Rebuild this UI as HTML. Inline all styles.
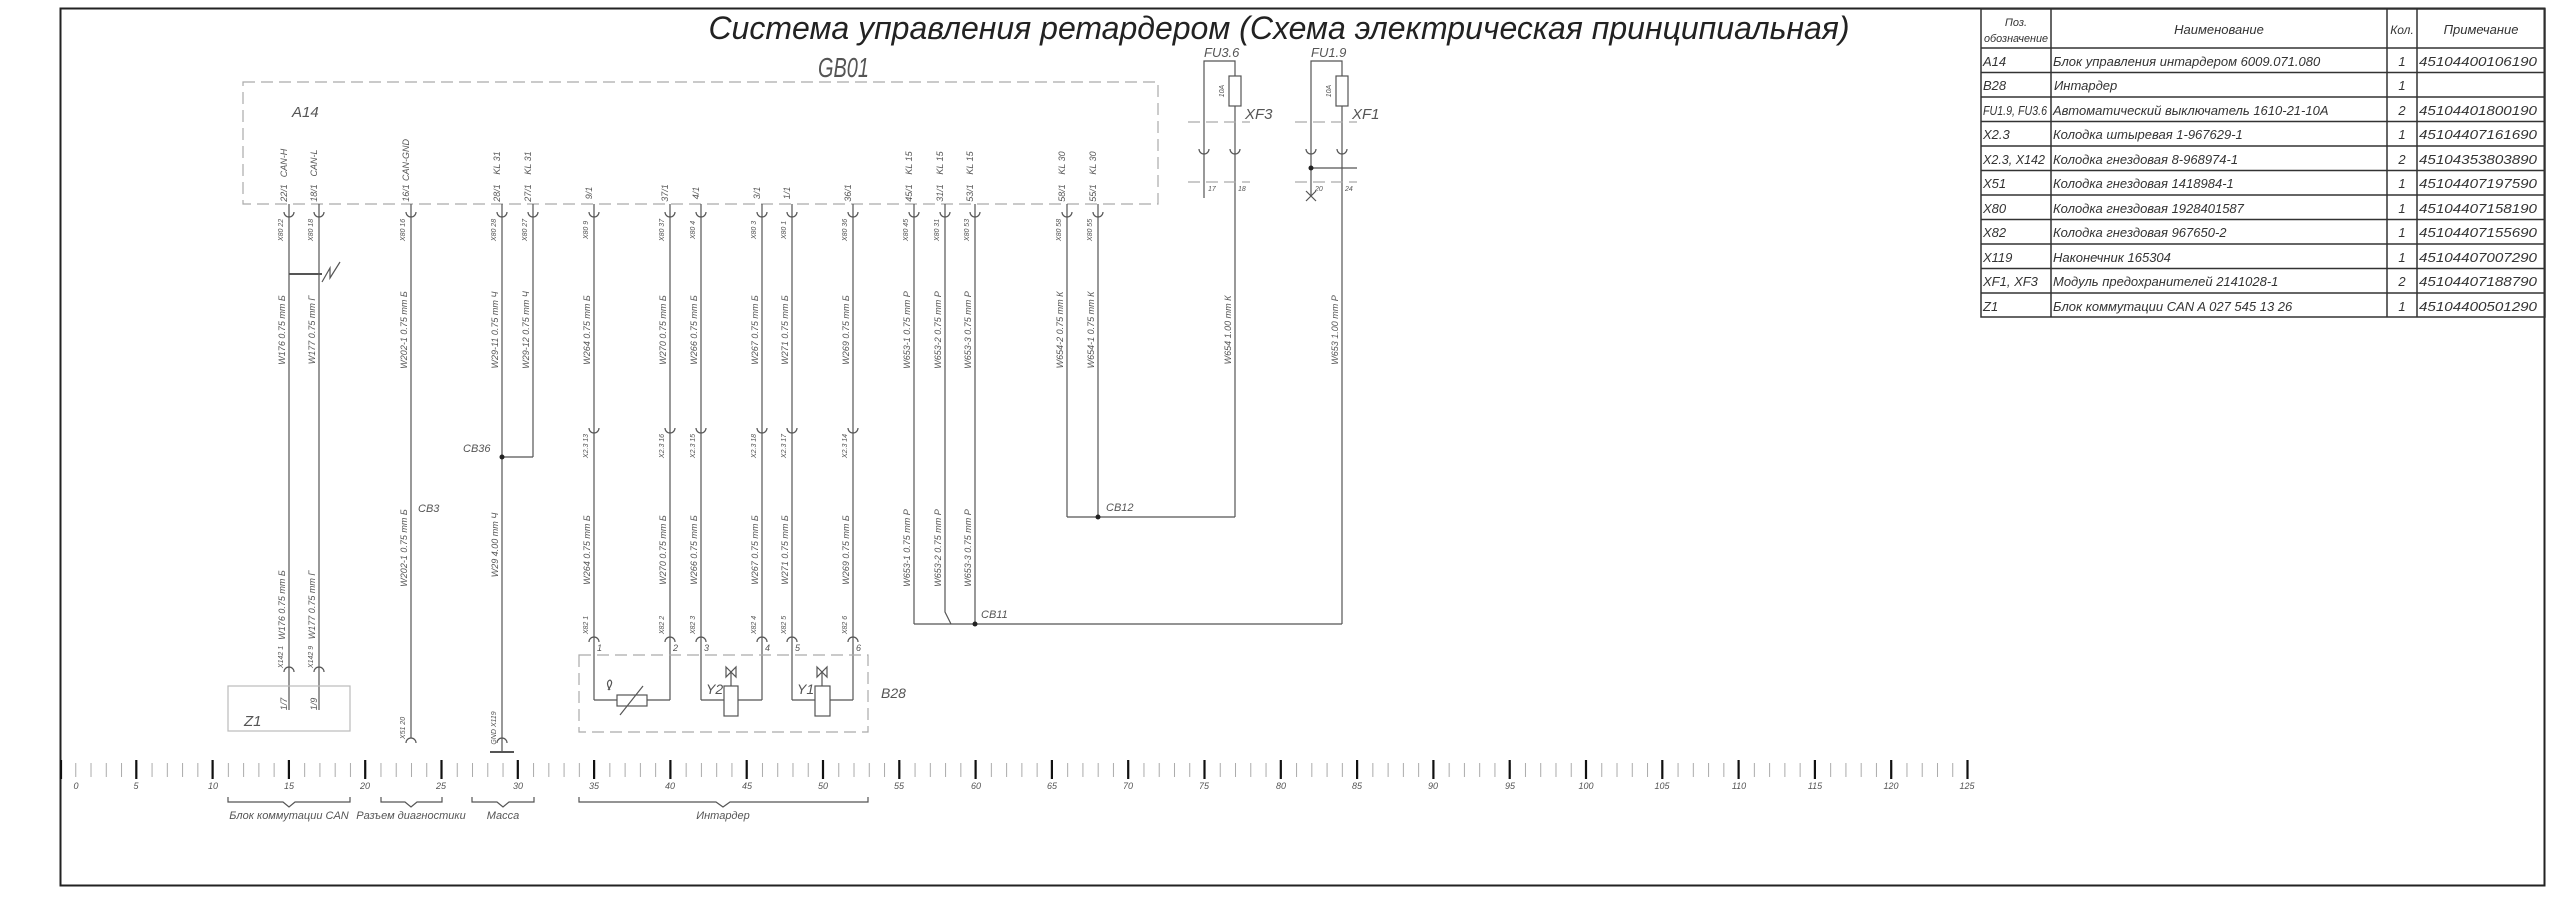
<!DOCTYPE html>
<html><head><meta charset="utf-8"><style>
html,body{margin:0;padding:0;background:#fff}
svg{display:block}
.w{stroke:#555;stroke-width:1.2;fill:none}
.d{stroke:#aaa;stroke-width:1.2;fill:none;stroke-dasharray:12 6}
.t{font-family:"Liberation Sans Narrow","Liberation Sans",sans-serif;font-style:italic;fill:#555}
.s{font-size:9px}
.xs{font-size:7px}
.tb{font-size:13px;fill:#333}
</style></head><body>
<svg width="2560" height="899" viewBox="0 0 2560 899" xmlns="http://www.w3.org/2000/svg">
<defs>
<pattern id="tk" x="60" y="0" width="15.26" height="899" patternUnits="userSpaceOnUse">
<line x1="0.5" y1="763" x2="0.5" y2="777" stroke="#aaa" stroke-width="1"/>
</pattern>
</defs>
<rect x="60.5" y="8.5" width="2484" height="877" fill="none" stroke="#222" stroke-width="2"/>
<text x="1279" y="39" text-anchor="middle" font-family="Liberation Sans, sans-serif" font-style="italic" font-size="32" fill="#222">Система управления ретардером (Схема электрическая принципиальная)</text>
<text x="818" y="77" class="t" font-size="28" fill="#444" textLength="51" lengthAdjust="spacingAndGlyphs">GB01</text>

<g stroke="#333" stroke-width="1.5" fill="none">
<rect x="1981" y="9" width="564" height="308"/>
<line x1="2051" y1="9" x2="2051" y2="317"/><line x1="2387" y1="9" x2="2387" y2="317"/><line x1="2417" y1="9" x2="2417" y2="317"/>
<line x1="1981" y1="48" x2="2545" y2="48"/>
<line x1="1981" y1="72.5" x2="2545" y2="72.5"/><line x1="1981" y1="97" x2="2545" y2="97"/>
<line x1="1981" y1="121.5" x2="2545" y2="121.5"/><line x1="1981" y1="146" x2="2545" y2="146"/>
<line x1="1981" y1="170.5" x2="2545" y2="170.5"/><line x1="1981" y1="195" x2="2545" y2="195"/>
<line x1="1981" y1="219.5" x2="2545" y2="219.5"/><line x1="1981" y1="244" x2="2545" y2="244"/>
<line x1="1981" y1="268.5" x2="2545" y2="268.5"/><line x1="1981" y1="293" x2="2545" y2="293"/>
</g>
<g class="t tb">
<text x="2016" y="26" text-anchor="middle" font-size="11">Поз.</text>
<text x="1984" y="42" font-size="11" textLength="64" lengthAdjust="spacingAndGlyphs">обозначение</text>
<text x="2219" y="34" text-anchor="middle">Наименование</text>
<text x="2402" y="34" text-anchor="middle" font-size="12">Кол.</text>
<text x="2481" y="34" text-anchor="middle">Примечание</text>
<text x="1983" y="66">A14</text><text x="2053" y="66">Блок управления интардером 6009.071.080</text><text x="2402" y="66" text-anchor="middle">1</text><text x="2419" y="66" textLength="118" lengthAdjust="spacingAndGlyphs">45104400106190</text>
<text x="1983" y="90">B28</text><text x="2054" y="90">Интардер</text><text x="2402" y="90" text-anchor="middle">1</text>
<text x="1983" y="115" textLength="64" lengthAdjust="spacingAndGlyphs">FU1.9, FU3.6</text><text x="2053" y="115">Автоматический выключатель 1610-21-10А</text><text x="2402" y="115" text-anchor="middle">2</text><text x="2419" y="115" textLength="118" lengthAdjust="spacingAndGlyphs">45104401800190</text>
<text x="1983" y="139">X2.3</text><text x="2053" y="139">Колодка штыревая 1-967629-1</text><text x="2402" y="139" text-anchor="middle">1</text><text x="2419" y="139" textLength="118" lengthAdjust="spacingAndGlyphs">45104407161690</text>
<text x="1983" y="164" textLength="62" lengthAdjust="spacingAndGlyphs">X2.3, X142</text><text x="2053" y="164">Колодка гнездовая 8-968974-1</text><text x="2402" y="164" text-anchor="middle">2</text><text x="2419" y="164" textLength="118" lengthAdjust="spacingAndGlyphs">45104353803890</text>
<text x="1983" y="188">X51</text><text x="2053" y="188">Колодка гнездовая 1418984-1</text><text x="2402" y="188" text-anchor="middle">1</text><text x="2419" y="188" textLength="118" lengthAdjust="spacingAndGlyphs">45104407197590</text>
<text x="1983" y="213">X80</text><text x="2053" y="213">Колодка гнездовая 1928401587</text><text x="2402" y="213" text-anchor="middle">1</text><text x="2419" y="213" textLength="118" lengthAdjust="spacingAndGlyphs">45104407158190</text>
<text x="1983" y="237">X82</text><text x="2053" y="237">Колодка гнездовая 967650-2</text><text x="2402" y="237" text-anchor="middle">1</text><text x="2419" y="237" textLength="118" lengthAdjust="spacingAndGlyphs">45104407155690</text>
<text x="1983" y="262">X119</text><text x="2053" y="262">Наконечник  165304</text><text x="2402" y="262" text-anchor="middle">1</text><text x="2419" y="262" textLength="118" lengthAdjust="spacingAndGlyphs">45104407007290</text>
<text x="1983" y="286">XF1, XF3</text><text x="2053" y="286">Модуль предохранителей 2141028-1</text><text x="2402" y="286" text-anchor="middle">2</text><text x="2419" y="286" textLength="118" lengthAdjust="spacingAndGlyphs">45104407188790</text>
<text x="1983" y="311">Z1</text><text x="2053" y="311">Блок коммутации CAN A 027 545 13 26</text><text x="2402" y="311" text-anchor="middle">1</text><text x="2419" y="311" textLength="118" lengthAdjust="spacingAndGlyphs">45104400501290</text>
</g>

<rect x="243" y="82" width="915" height="122" class="d"/>
<text x="292" y="117" class="t" font-size="15">A14</text>

<g class="w">
<line x1="289" y1="204" x2="289" y2="710"/>
<line x1="319" y1="204" x2="319" y2="710"/>
<line x1="411" y1="204" x2="411" y2="738"/>
<line x1="502" y1="204" x2="502" y2="752"/>
<line x1="533" y1="204" x2="533" y2="457"/>
<line x1="502" y1="457" x2="533" y2="457"/>
<line x1="490" y1="752" x2="514" y2="752" stroke-width="2"/>
<line x1="289" y1="274" x2="322" y2="274" stroke-width="2"/>
<path d="M322,282 L330,268 L330,278 L340,262"/>
<line x1="594" y1="204" x2="594" y2="700"/>
<line x1="670" y1="204" x2="670" y2="700"/>
<line x1="701" y1="204" x2="701" y2="700"/>
<line x1="762" y1="204" x2="762" y2="700"/>
<line x1="792" y1="204" x2="792" y2="700"/>
<line x1="853" y1="204" x2="853" y2="700"/>
<line x1="914" y1="204" x2="914" y2="624"/>
<path d="M945,204 L945,612 L951,624"/>
<line x1="975" y1="204" x2="975" y2="624"/>
<line x1="914" y1="624" x2="1342" y2="624"/>
<line x1="1067" y1="204" x2="1067" y2="517"/>
<line x1="1098" y1="204" x2="1098" y2="517"/>
<line x1="1067" y1="517" x2="1235" y2="517"/>
<path d="M1204,198 L1204,61 L1235,61 L1235,517"/>
<rect x="1229" y="76" width="12" height="30" fill="#fff"/>
<path d="M1311,196 L1311,61 L1342,61 L1342,624"/>
<rect x="1336" y="76" width="12" height="30" fill="#fff"/>
<line x1="1311" y1="168" x2="1357" y2="168"/>
<path d="M1306,191 L1316,201 M1316,191 L1306,201"/>
</g>
<g class="d" stroke="#999">
<line x1="1188" y1="122" x2="1250" y2="122"/><line x1="1188" y1="182" x2="1250" y2="182"/>
<line x1="1295" y1="122" x2="1357" y2="122"/><line x1="1295" y1="182" x2="1357" y2="182"/>
</g>
<g fill="#222">
<circle cx="502" cy="457" r="2.5"/><circle cx="1098" cy="517" r="2.5"/><circle cx="975" cy="624" r="2.5"/><circle cx="1311" cy="168" r="2.5"/>
</g>
<g class="t" font-size="13">
<text x="1204" y="57">FU3.6</text><text x="1311" y="57">FU1.9</text>
<text x="1245" y="119" font-size="15">XF3</text><text x="1352" y="119" font-size="15">XF1</text>
<text x="463" y="452" font-size="11">CB36</text><text x="418" y="512" font-size="11">CB3</text>
<text x="1106" y="511" font-size="11">CB12</text><text x="981" y="618" font-size="11">CB11</text>
</g>
<g class="t xs">
<text transform="translate(1224,91) rotate(-90)" text-anchor="middle">10A</text>
<text transform="translate(1331,91) rotate(-90)" text-anchor="middle">10A</text>
<text x="1208" y="191">17</text><text x="1238" y="191">18</text><text x="1315" y="191">20</text><text x="1345" y="191">24</text>
</g>

<g class="w">
<path d="M284,212 A5,5 0 0 0 294,212 M314,212 A5,5 0 0 0 324,212 M406,212 A5,5 0 0 0 416,212 M497,212 A5,5 0 0 0 507,212 M528,212 A5,5 0 0 0 538,212 M589,212 A5,5 0 0 0 599,212 M665,212 A5,5 0 0 0 675,212 M696,212 A5,5 0 0 0 706,212 M757,212 A5,5 0 0 0 767,212 M787,212 A5,5 0 0 0 797,212 M848,212 A5,5 0 0 0 858,212 M909,212 A5,5 0 0 0 919,212 M940,212 A5,5 0 0 0 950,212 M970,212 A5,5 0 0 0 980,212 M1062,212 A5,5 0 0 0 1072,212 M1093,212 A5,5 0 0 0 1103,212"/>
<path d="M1199,149 A5,5 0 0 0 1209,149 M1230,149 A5,5 0 0 0 1240,149 M1306,149 A5,5 0 0 0 1316,149 M1337,149 A5,5 0 0 0 1347,149"/>
<path d="M589,428 A5,5 0 0 0 599,428 M665,428 A5,5 0 0 0 675,428 M696,428 A5,5 0 0 0 706,428 M757,428 A5,5 0 0 0 767,428 M787,428 A5,5 0 0 0 797,428 M848,428 A5,5 0 0 0 858,428"/>
<path d="M589,642 A5,5 0 0 1 599,642 M665,642 A5,5 0 0 1 675,642 M696,642 A5,5 0 0 1 706,642 M757,642 A5,5 0 0 1 767,642 M787,642 A5,5 0 0 1 797,642 M848,642 A5,5 0 0 1 858,642"/>
<path d="M284,672 A5,5 0 0 1 294,672 M314,672 A5,5 0 0 1 324,672 M406,743 A5,5 0 0 1 416,743 M497,743 A5,5 0 0 1 507,743"/>
</g>

<rect x="228" y="686" width="122" height="45" fill="none" stroke="#bbb" stroke-width="1.2"/>
<text x="244" y="726" class="t" font-size="15">Z1</text>
<rect x="579" y="655" width="289" height="77" class="d" stroke="#666"/>
<text x="881" y="698" class="t" font-size="14">B28</text>
<g class="w">
<path d="M594,700 L617,700 M647,700 L670,700"/>
<rect x="617" y="695" width="30" height="11"/>
<line x1="620" y1="715" x2="643" y2="686"/>
<path d="M701,700 L724,700 M738,700 L762,700"/>
<rect x="724" y="686" width="14" height="30"/>
<line x1="731" y1="686" x2="731" y2="672"/>
<path d="M726,667 L736,677 L736,667 L726,677 Z"/>
<path d="M792,700 L815,700 M830,700 L853,700"/>
<rect x="815" y="686" width="15" height="30"/>
<line x1="822" y1="686" x2="822" y2="672"/>
<path d="M817,667 L827,677 L827,667 L817,677 Z"/>
<path d="M610,690 q-5,-8 0,-10 q4,2 -2,10"/>
</g>
<g class="t" font-size="14"><text x="706" y="694">Y2</text><text x="797" y="694">Y1</text></g>
<g class="t s"><text x="597" y="651">1</text><text x="673" y="651">2</text><text x="704" y="651">3</text><text x="765" y="651">4</text><text x="795" y="651">5</text><text x="856" y="651">6</text></g>

<g class="t s">
<text transform="translate(287,163) rotate(-90)" text-anchor="middle">CAN-H</text>
<text transform="translate(317,163) rotate(-90)" text-anchor="middle">CAN-L</text>
<text transform="translate(409,160) rotate(-90)" text-anchor="middle">CAN-GND</text>
<text transform="translate(500,163) rotate(-90)" text-anchor="middle">KL 31</text>
<text transform="translate(531,163) rotate(-90)" text-anchor="middle">KL 31</text>
<text transform="translate(912,163) rotate(-90)" text-anchor="middle">KL 15</text>
<text transform="translate(943,163) rotate(-90)" text-anchor="middle">KL 15</text>
<text transform="translate(973,163) rotate(-90)" text-anchor="middle">KL 15</text>
<text transform="translate(1065,163) rotate(-90)" text-anchor="middle">KL 30</text>
<text transform="translate(1096,163) rotate(-90)" text-anchor="middle">KL 30</text>
<text transform="translate(287,193) rotate(-90)" text-anchor="middle">22/1</text>
<text transform="translate(317,193) rotate(-90)" text-anchor="middle">18/1</text>
<text transform="translate(409,193) rotate(-90)" text-anchor="middle">16/1</text>
<text transform="translate(500,193) rotate(-90)" text-anchor="middle">28/1</text>
<text transform="translate(531,193) rotate(-90)" text-anchor="middle">27/1</text>
<text transform="translate(592,193) rotate(-90)" text-anchor="middle">9/1</text>
<text transform="translate(668,193) rotate(-90)" text-anchor="middle">37/1</text>
<text transform="translate(699,193) rotate(-90)" text-anchor="middle">4/1</text>
<text transform="translate(760,193) rotate(-90)" text-anchor="middle">3/1</text>
<text transform="translate(790,193) rotate(-90)" text-anchor="middle">1/1</text>
<text transform="translate(851,193) rotate(-90)" text-anchor="middle">36/1</text>
<text transform="translate(912,193) rotate(-90)" text-anchor="middle">45/1</text>
<text transform="translate(943,193) rotate(-90)" text-anchor="middle">31/1</text>
<text transform="translate(973,193) rotate(-90)" text-anchor="middle">53/1</text>
<text transform="translate(1065,193) rotate(-90)" text-anchor="middle">58/1</text>
<text transform="translate(1096,193) rotate(-90)" text-anchor="middle">55/1</text>
</g>
<g class="t xs">
<text transform="translate(283,230) rotate(-90)" text-anchor="middle">X80 22</text>
<text transform="translate(313,230) rotate(-90)" text-anchor="middle">X80 18</text>
<text transform="translate(405,230) rotate(-90)" text-anchor="middle">X80 16</text>
<text transform="translate(496,230) rotate(-90)" text-anchor="middle">X80 28</text>
<text transform="translate(527,230) rotate(-90)" text-anchor="middle">X80 27</text>
<text transform="translate(588,230) rotate(-90)" text-anchor="middle">X80 9</text>
<text transform="translate(664,230) rotate(-90)" text-anchor="middle">X80 37</text>
<text transform="translate(695,230) rotate(-90)" text-anchor="middle">X80 4</text>
<text transform="translate(756,230) rotate(-90)" text-anchor="middle">X80 3</text>
<text transform="translate(786,230) rotate(-90)" text-anchor="middle">X80 1</text>
<text transform="translate(847,230) rotate(-90)" text-anchor="middle">X80 36</text>
<text transform="translate(908,230) rotate(-90)" text-anchor="middle">X80 45</text>
<text transform="translate(939,230) rotate(-90)" text-anchor="middle">X80 31</text>
<text transform="translate(969,230) rotate(-90)" text-anchor="middle">X80 53</text>
<text transform="translate(1061,230) rotate(-90)" text-anchor="middle">X80 58</text>
<text transform="translate(1092,230) rotate(-90)" text-anchor="middle">X80 55</text>
<text transform="translate(588,446) rotate(-90)" text-anchor="middle">X2.3 13</text>
<text transform="translate(664,446) rotate(-90)" text-anchor="middle">X2.3 16</text>
<text transform="translate(695,446) rotate(-90)" text-anchor="middle">X2.3 15</text>
<text transform="translate(756,446) rotate(-90)" text-anchor="middle">X2.3 18</text>
<text transform="translate(786,446) rotate(-90)" text-anchor="middle">X2.3 17</text>
<text transform="translate(847,446) rotate(-90)" text-anchor="middle">X2.3 14</text>
<text transform="translate(588,625) rotate(-90)" text-anchor="middle">X82 1</text>
<text transform="translate(664,625) rotate(-90)" text-anchor="middle">X82 2</text>
<text transform="translate(695,625) rotate(-90)" text-anchor="middle">X82 3</text>
<text transform="translate(756,625) rotate(-90)" text-anchor="middle">X82 4</text>
<text transform="translate(786,625) rotate(-90)" text-anchor="middle">X82 5</text>
<text transform="translate(847,625) rotate(-90)" text-anchor="middle">X82 6</text>
<text transform="translate(283,657) rotate(-90)" text-anchor="middle">X142 1</text>
<text transform="translate(313,657) rotate(-90)" text-anchor="middle">X142 9</text>
<text transform="translate(405,728) rotate(-90)" text-anchor="middle">X51 20</text>
<text transform="translate(496,728) rotate(-90)" text-anchor="middle">GND X119</text>
<text transform="translate(287,704) rotate(-90)" text-anchor="middle" font-size="9">1/7</text>
<text transform="translate(317,704) rotate(-90)" text-anchor="middle" font-size="9">1/9</text>
</g>
<g class="t s" xml:space="preserve" font-size="8.5">
<text transform="translate(285,330) rotate(-90)" text-anchor="middle">W176    0.75 mm  Б</text>
<text transform="translate(315,330) rotate(-90)" text-anchor="middle">W177    0.75 mm  Г</text>
<text transform="translate(407,330) rotate(-90)" text-anchor="middle">W202-1    0.75 mm  Б</text>
<text transform="translate(498,330) rotate(-90)" text-anchor="middle">W29-11    0.75 mm  Ч</text>
<text transform="translate(529,330) rotate(-90)" text-anchor="middle">W29-12    0.75 mm  Ч</text>
<text transform="translate(590,330) rotate(-90)" text-anchor="middle">W264    0.75 mm  Б</text>
<text transform="translate(666,330) rotate(-90)" text-anchor="middle">W270    0.75 mm  Б</text>
<text transform="translate(697,330) rotate(-90)" text-anchor="middle">W266    0.75 mm  Б</text>
<text transform="translate(758,330) rotate(-90)" text-anchor="middle">W267    0.75 mm  Б</text>
<text transform="translate(788,330) rotate(-90)" text-anchor="middle">W271    0.75 mm  Б</text>
<text transform="translate(849,330) rotate(-90)" text-anchor="middle">W269    0.75 mm  Б</text>
<text transform="translate(910,330) rotate(-90)" text-anchor="middle">W653-1    0.75 mm  Р</text>
<text transform="translate(941,330) rotate(-90)" text-anchor="middle">W653-2    0.75 mm  Р</text>
<text transform="translate(971,330) rotate(-90)" text-anchor="middle">W653-3    0.75 mm  Р</text>
<text transform="translate(1063,330) rotate(-90)" text-anchor="middle">W654-2    0.75 mm  К</text>
<text transform="translate(1094,330) rotate(-90)" text-anchor="middle">W654-1    0.75 mm  К</text>
<text transform="translate(1231,330) rotate(-90)" text-anchor="middle">W654    1.00 mm  К</text>
<text transform="translate(1338,330) rotate(-90)" text-anchor="middle">W653    1.00 mm  Р</text>
<text transform="translate(285,605) rotate(-90)" text-anchor="middle">W176    0.75 mm  Б</text>
<text transform="translate(315,605) rotate(-90)" text-anchor="middle">W177    0.75 mm  Г</text>
<text transform="translate(407,548) rotate(-90)" text-anchor="middle">W202-1    0.75 mm  Б</text>
<text transform="translate(498,545) rotate(-90)" text-anchor="middle">W29    4.00 mm  Ч</text>
<text transform="translate(590,550) rotate(-90)" text-anchor="middle">W264    0.75 mm  Б</text>
<text transform="translate(666,550) rotate(-90)" text-anchor="middle">W270    0.75 mm  Б</text>
<text transform="translate(697,550) rotate(-90)" text-anchor="middle">W266    0.75 mm  Б</text>
<text transform="translate(758,550) rotate(-90)" text-anchor="middle">W267    0.75 mm  Б</text>
<text transform="translate(788,550) rotate(-90)" text-anchor="middle">W271    0.75 mm  Б</text>
<text transform="translate(849,550) rotate(-90)" text-anchor="middle">W269    0.75 mm  Б</text>
<text transform="translate(910,548) rotate(-90)" text-anchor="middle">W653-1    0.75 mm  Р</text>
<text transform="translate(941,548) rotate(-90)" text-anchor="middle">W653-2    0.75 mm  Р</text>
<text transform="translate(971,548) rotate(-90)" text-anchor="middle">W653-3    0.75 mm  Р</text>
</g>

<rect x="60" y="760" width="1910" height="20" fill="url(#tk)"/>
<g stroke="#111" stroke-width="2.2">
<line x1="61" y1="760" x2="61" y2="779"/><line x1="136.3" y1="760" x2="136.3" y2="779"/><line x1="212.6" y1="760" x2="212.6" y2="779"/><line x1="288.9" y1="760" x2="288.9" y2="779"/><line x1="365.2" y1="760" x2="365.2" y2="779"/><line x1="441.5" y1="760" x2="441.5" y2="779"/><line x1="517.8" y1="760" x2="517.8" y2="779"/><line x1="594.1" y1="760" x2="594.1" y2="779"/><line x1="670.4" y1="760" x2="670.4" y2="779"/><line x1="746.7" y1="760" x2="746.7" y2="779"/><line x1="823" y1="760" x2="823" y2="779"/><line x1="899.3" y1="760" x2="899.3" y2="779"/><line x1="975.6" y1="760" x2="975.6" y2="779"/><line x1="1051.9" y1="760" x2="1051.9" y2="779"/><line x1="1128.2" y1="760" x2="1128.2" y2="779"/><line x1="1204.5" y1="760" x2="1204.5" y2="779"/><line x1="1280.8" y1="760" x2="1280.8" y2="779"/><line x1="1357.1" y1="760" x2="1357.1" y2="779"/><line x1="1433.4" y1="760" x2="1433.4" y2="779"/><line x1="1509.7" y1="760" x2="1509.7" y2="779"/><line x1="1586" y1="760" x2="1586" y2="779"/><line x1="1662.3" y1="760" x2="1662.3" y2="779"/><line x1="1738.6" y1="760" x2="1738.6" y2="779"/><line x1="1814.9" y1="760" x2="1814.9" y2="779"/><line x1="1891.2" y1="760" x2="1891.2" y2="779"/><line x1="1967.5" y1="760" x2="1967.5" y2="779"/>
</g>
<g class="t s" text-anchor="middle">
<text x="76" y="789">0</text><text x="136" y="789">5</text><text x="213" y="789">10</text><text x="289" y="789">15</text><text x="365" y="789">20</text><text x="441" y="789">25</text><text x="518" y="789">30</text><text x="594" y="789">35</text><text x="670" y="789">40</text><text x="747" y="789">45</text><text x="823" y="789">50</text><text x="899" y="789">55</text><text x="976" y="789">60</text><text x="1052" y="789">65</text><text x="1128" y="789">70</text><text x="1204" y="789">75</text><text x="1281" y="789">80</text><text x="1357" y="789">85</text><text x="1433" y="789">90</text><text x="1510" y="789">95</text><text x="1586" y="789">100</text><text x="1662" y="789">105</text><text x="1739" y="789">110</text><text x="1815" y="789">115</text><text x="1891" y="789">120</text><text x="1967" y="789">125</text>
</g>
<g class="w" stroke="#444">
<path d="M228,797 L228,802 L283,802 L289,807 L295,802 L350,802 L350,797"/>
<path d="M381,797 L381,802 L405,802 L411,807 L417,802 L442,802 L442,797"/>
<path d="M472,797 L472,802 L497,802 L503,807 L509,802 L534,802 L534,797"/>
<path d="M579,797 L579,802 L716,802 L723,807 L730,802 L868,802 L868,797"/>
</g>
<g class="t" font-size="11" text-anchor="middle">
<text x="289" y="819">Блок коммутации CAN</text>
<text x="411" y="819">Разъем диагностики</text>
<text x="503" y="819">Масса</text>
<text x="723" y="819">Интардер</text>
</g>
</svg>
</body></html>
